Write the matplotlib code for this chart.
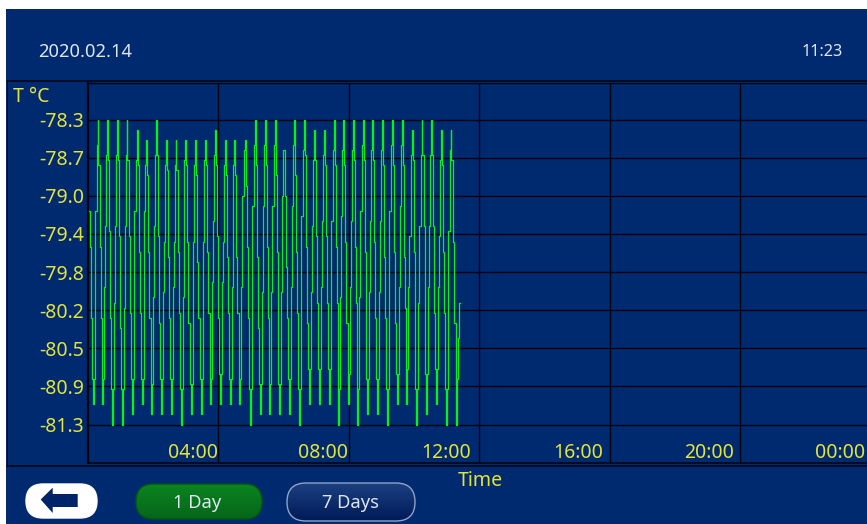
import numpy as np
import matplotlib
matplotlib.use('Agg')
import matplotlib.pyplot as plt
from matplotlib.patches import FancyBboxPatch, Polygon, Rectangle

W, H = 867, 524
navy = '#002a70'
yellow = '#e4e436'
pale = '#dfe6f0'
line_black = '#00050f'
plt.rcParams['font.family'] = ['Noto Sans', 'DejaVu Sans']

# readings from the screen, hours and deg C
trough_hours = [0.16,0.45,0.75,1.05,1.35,1.66,1.96,2.25,2.56,2.87,3.16,3.47,3.76,4.06,4.36,4.65,4.97,5.28,5.57,
                5.87,6.18,6.47,6.79,7.09,7.39,7.69,7.99,8.27,8.57,8.87,9.17,9.48,9.77,10.07,10.38,10.68,10.98,11.30]
trough_temp = [-81.1,-81.1,-81.3,-81.3,-81.2,-81.1,-81.2,-81.2,-81.2,-81.3,-81.2,-81.2,-81.1,-81.1,-81.1,-81.1,-81.3,-81.2,-81.2,
               -81.2,-81.2,-81.3,-81.1,-81.1,-81.1,-81.3,-81.1,-81.3,-81.2,-81.2,-81.3,-81.1,-81.1,-81.3,-81.2,-81.1,-81.3,-81.3]
floor_temp = [-80.85,-80.85,-80.95,-80.95,-80.85,-80.85,-80.9,-80.85,-80.85,-80.95,-80.9,-80.85,-80.85,-80.8,-80.85,-80.85,-80.95,-80.9,-80.9,
              -80.9,-80.85,-80.95,-80.75,-80.75,-80.75,-80.95,-80.8,-80.95,-80.85,-80.85,-80.95,-80.8,-80.75,-80.95,-80.8,-80.75,-80.95,-80.95]
rise_mid_temp = [-79.95,-79.95,-80.1,-80.15,-79.95,-79.9,-80.05,-80.0,-79.95,-80.05,-80.0,-79.9,-79.9,-79.9,-79.95,-79.95,-80.1,-80.0,-80.0,
                 -80.0,-79.95,-80.05,-80.0,-79.95,-79.95,-80.05,-79.95,-80.05,-80.0,-80.0,-80.05,-79.95,-79.95,-80.1,-79.95,-79.95,-80.05,-80.05]
fall_mid_temp = [-80.25,-80.25,-80.35,-80.2,-80.2,-80.25,-80.3,-80.25,-80.2,-80.3,-80.25,-80.2,-80.25,-80.2,-80.2,-80.25,-80.35,-80.25,-80.3,
                 -80.25,-80.2,-80.3,-80.1,-80.1,-80.1,-80.3,-80.1,-80.35,-80.25,-80.25,-80.3,-80.15,-80.15,-80.3,-80.2,-80.2,-80.3,-80.25]

peak_hours = [0.31,0.61,0.90,1.20,1.51,1.80,2.10,2.41,2.70,3.00,3.30,3.60,3.91,4.21,4.50,4.84,5.13,5.44,5.74,
              6.03,6.34,6.64,6.94,7.24,7.55,7.84,8.14,8.44,8.73,9.04,9.33,9.64,9.94,10.24,10.54,10.84,11.13]
peak_temp = [-78.3,-78.3,-78.3,-78.3,-78.4,-78.5,-78.3,-78.5,-78.5,-78.5,-78.5,-78.5,-78.4,-78.5,-78.5,-78.5,-78.3,-78.3,-78.3,
             -78.6,-78.3,-78.3,-78.4,-78.4,-78.3,-78.3,-78.3,-78.3,-78.3,-78.3,-78.3,-78.3,-78.4,-78.3,-78.3,-78.4,-78.4]
shoulder_up = [-78.55,-78.65,-78.65,-78.65,-78.7,-78.75,-78.65,-78.75,-78.75,-78.7,-78.75,-78.7,-78.65,-78.75,-78.75,-78.6,-78.55,-78.55,-78.55,
               -78.6,-78.55,-78.6,-78.7,-78.65,-78.6,-78.6,-78.6,-78.55,-78.6,-78.6,-78.55,-78.55,-78.65,-78.65,-78.65,-78.7,-78.6]
shoulder_down = [-78.75,-78.7,-78.7,-78.7,-78.75,-78.85,-78.65,-78.8,-78.8,-78.75,-78.85,-78.75,-78.75,-78.85,-78.85,-78.95,-78.75,-78.75,-78.85,
                 -79.05,-78.85,-78.65,-78.7,-78.75,-78.75,-78.75,-78.7,-78.7,-78.7,-78.75,-78.75,-78.75,-78.7,-78.65,-78.65,-78.75,-78.7]
knee_up = [-79.2,-79.35,-79.35,-79.35,-79.2,-79.2,-79.35,-79.5,-79.5,-79.35,-79.5,-79.5,-79.3,-79.5,-79.5,-79.05,-79.15,-79.15,-79.15,
           -79.05,-79.15,-79.25,-79.35,-79.3,-79.3,-79.25,-79.3,-79.2,-79.3,-79.3,-79.2,-79.15,-79.45,-79.35,-79.35,-79.45,-79.4]
knee_down = [-79.55,-79.4,-79.45,-79.45,-79.6,-79.6,-79.45,-79.65,-79.6,-79.5,-79.7,-79.6,-79.45,-79.65,-79.65,-79.55,-79.65,-79.55,-79.6,
             -79.75,-79.6,-79.55,-79.45,-79.45,-79.55,-79.5,-79.55,-79.6,-79.5,-79.65,-79.6,-79.65,-79.6,-79.35,-79.35,-79.6,-79.5]

start_hours = [0.05,0.08,0.11,0.145]
start_temp = [-79.2,-79.55,-80.25,-80.85]
tail_hours = [11.32,11.36,11.39,11.41]
tail_temp = [-80.85,-80.45,-80.1,-80.1]

ytick_vals = [-78.3,-78.675,-79.05,-79.425,-79.8,-80.175,-80.55,-80.925,-81.3]
ytick_labels = ['-78.3','-78.7','-79.0','-79.4','-79.8','-80.2','-80.5','-80.9','-81.3']
xtick_vals = [4,8,12,16,20]
# the screen draws its time labels a bit left of the grid, more so further right
label_ends = [4.0,7.99,11.75,15.8,19.81,23.83]
xtick_labels = ['04:00','08:00','12:00','16:00','20:00','00:00']


def pill(ax, x0, y0, x1, y1, top, bottom, edge):
    # rounded button with a vertical gradient
    r = (y1-y0)/2
    p = FancyBboxPatch((x0, y0), x1-x0, y1-y0, boxstyle='round,pad=0,rounding_size=%f' % r,
                       fc='none', ec=edge, lw=1.0, zorder=4)
    ax.add_patch(p)
    g = np.linspace(0, 1, 40).reshape(-1, 1, 1)
    c0, c1 = np.array(matplotlib.colors.to_rgb(top)), np.array(matplotlib.colors.to_rgb(bottom))
    im = ax.imshow(c0*(1-g)+c1*g, extent=(x0, x1, y1, y0), aspect='auto', zorder=3, interpolation='bilinear')
    im.set_clip_path(p)


fig = plt.figure(figsize=(W/100, H/100), dpi=100, facecolor='white')

# screen background, buttons and captions in pixel coordinates
bg = fig.add_axes([0, 0, 1, 1])
bg.axis('off')
bg.add_patch(Rectangle((6, 9), W-6, H-9, fc=navy, ec='none', zorder=0))
bg.plot([7, W], [80.5, 80.5], color=line_black, lw=1.1, zorder=1)
bg.plot([7, W], [465.5, 465.5], color=line_black, lw=1.1, zorder=1)
bg.plot([7, 7], [80.5, 465.5], color=line_black, lw=0.8, zorder=1)

bg.text(38, 52, '2020.02.14', color=pale, fontsize=13.2, va='center', ha='left')
bg.text(843, 52, '11:23', color=pale, fontsize=11.7, va='center', ha='right')
bg.text(13, 97, 'T °C', color=yellow, fontsize=14, va='center', ha='left')
bg.text(480, 481.5, 'Time', color=yellow, fontsize=14, va='center', ha='center')

# back button
bg.add_patch(FancyBboxPatch((26, 484), 71, 34, boxstyle='round,pad=0,rounding_size=17', fc='white', ec='white', lw=1,
                            zorder=3))
bg.add_patch(Polygon([(40.7, 499.5), (52.7, 487.7), (52.7, 494), (77.7, 494), (77.7, 507), (52.7, 507), (52.7, 513)],
                     closed=True, fc='#00246a', ec='none', zorder=5))

pill(bg, 136, 484, 262, 519, '#0c8420', '#05661a', '#04560f')
pill(bg, 287, 483, 415, 521, '#1c4080', '#001a58', '#8fa4c6')
bg.text(197, 503, '1 Day', color=pale, fontsize=13.2, va='center', ha='center', zorder=6)
bg.text(350, 503, '7 Days', color=pale, fontsize=13.2, va='center', ha='center', zorder=6)
bg.set_xlim(0, W)
bg.set_ylim(H, 0)

# chart area: 00:00 sits on the left edge
left, right, top, bottom = 87.5, 867.0, 82.5, 463.0
hours_per_px = 4/130.5
deg_per_px = 0.375/38.125
ax = fig.add_axes([left/W, 1-bottom/H, (right-left)/W, (bottom-top)/H])
ax.patch.set_alpha(0)

hours = list(start_hours)
temps = list(start_temp)
for i in range(len(peak_hours)):
    t = trough_hours[i]
    p = peak_hours[i]
    hours += [t, t+0.03, t+0.06, t+0.085, p-0.03, p, p+0.025, p+0.06, p+0.09, trough_hours[i+1]-0.02]
    temps += [trough_temp[i], floor_temp[i], rise_mid_temp[i], knee_up[i], shoulder_up[i], peak_temp[i],
              shoulder_down[i], knee_down[i], fall_mid_temp[i], floor_temp[i+1]]
hours += [trough_hours[-1]] + tail_hours
temps += [trough_temp[-1]] + tail_temp

ax.set_xticks(xtick_vals)
ax.set_yticks(ytick_vals)
ax.set_xticklabels([])
ax.set_yticklabels(ytick_labels, color=yellow, fontsize=14)
ax.tick_params(axis='both', length=0, pad=2.5)
ax.grid(True, color=line_black, lw=1.0, zorder=1)
ax.set_axisbelow(True)
ax.step(hours, temps, where='post', color='#00f510', lw=0.9, zorder=3)

# limits go last, set_xticks would widen them otherwise
xmax = (right-left)*hours_per_px
ymin = -78.3-(bottom-119.5)*deg_per_px
ax.set_xlim(0, xmax)
ax.set_ylim(ymin, -78.3+(119.5-top)*deg_per_px)

for v, s in zip(label_ends, xtick_labels):
    ax.text(v, ymin+10.5*deg_per_px, s, color=yellow, fontsize=14, ha='right', va='center', zorder=4)

for s in ['top', 'right']:
    ax.spines[s].set_visible(False)
ax.spines['left'].set_color(line_black)
ax.spines['left'].set_linewidth(1.6)
ax.spines['bottom'].set_color(line_black)
ax.spines['bottom'].set_linewidth(1.1)
ax.plot([0, 1], [1, 1], transform=ax.transAxes, color=line_black, lw=1.0, clip_on=False)

fig.savefig('out.png', dpi=100, facecolor='white')
